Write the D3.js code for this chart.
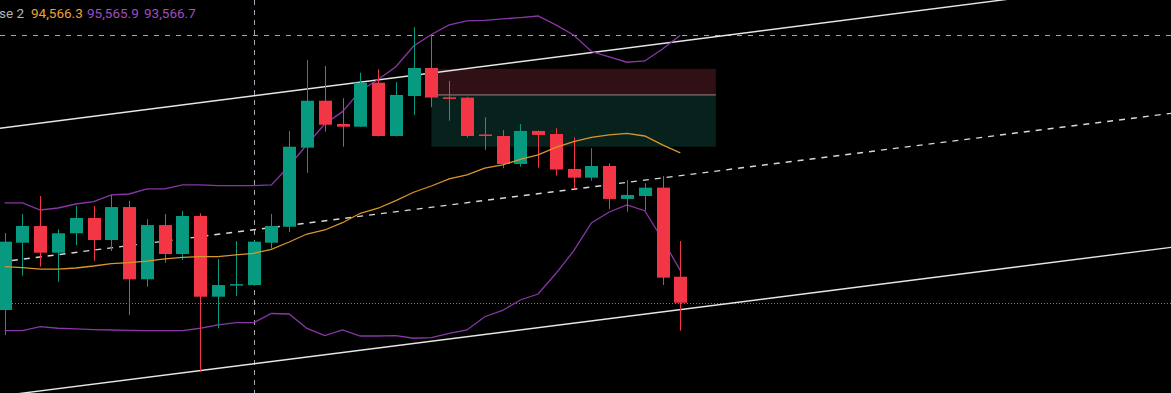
<!DOCTYPE html>
<html>
<head>
<meta charset="utf-8">
<script src="https://d3js.org/d3.v7.min.js"></script>
<style>
  html, body { margin: 0; padding: 0; background: #000000; overflow: hidden; }
  #chart .legend { font-family: Roboto, "Noto Sans", sans-serif; font-size: 13.5px; }
</style>
</head>
<body>
<script>
// candles, oldest first (price in USD)
const OPEN  = [93230, 93802, 93944, 93717, 93882, 94012, 93825, 94105, 93491, 93952,
               93706, 94029, 93343, 93440, 93442, 93802, 93938, 94610, 95009, 94811,
               94788, 95162, 94709, 95049, 95287, 95038, 95035, 94722, 94709, 94471,
               94752, 94726, 94429, 94355, 94454, 94174, 94199, 94270, 93513];
const HIGH  = [93885, 94046, 94199, 93916, 94114, 94114, 94207, 94159, 94001, 94046,
               94071, 94052, 93663, 93816, 93820, 94046, 94752, 95355, 95304, 95030,
               95247, 95276, 95168, 95633, 95568, 95177, 95041, 94868, 94760, 94811,
               94755, 94775, 94698, 94605, 94477, 94335, 94307, 94369, 93816];
const LOW   = [93018, 93522, 93598, 93470, 93782, 93649, 93731, 93187, 93428, 93632,
               93655, 92705, 93074, 93349, 93435, 93754, 93893, 94397, 94746, 94618,
               94785, 94705, 94705, 94888, 94956, 94839, 94696, 94590, 94435, 94448,
               94440, 94373, 94259, 94329, 94089, 94066, 94074, 93442, 93054];
const CLOSE = [93811, 93944, 93717, 93882, 94012, 93825, 94105, 93491, 93952, 93706,
               94029, 93343, 93442, 93450, 93811, 93944, 94618, 95009, 94805, 94788,
               95162, 94709, 95058, 95287, 95036, 95024, 94709, 94709, 94471, 94752,
               94718, 94424, 94355, 94454, 94174, 94208, 94270, 93505, 93292];

// Bollinger bands
const BB_MID   = [93598, 93591, 93578, 93578, 93587, 93604, 93625, 93632, 93646, 93664,
                  93678, 93683, 93683, 93698, 93712, 93746, 93808, 93876, 93910, 93972,
                  94052, 94095, 94159, 94231, 94284, 94344, 94378, 94435, 94463, 94511,
                  94548, 94613, 94661, 94698, 94718, 94732, 94709, 94633, 94566.3];
const BB_UPPER = [94140, 94140, 94080, 94097, 94131, 94151, 94208, 94216, 94259, 94259,
                  94293, 94293, 94287, 94287, 94287, 94293, 94454, 94637, 94811, 94916,
                  95092, 95189, 95298, 95474, 95572, 95653, 95687, 95691, 95704, 95716,
                  95729, 95653, 95568, 95427, 95381, 95336, 95347, 95449, 95565.9];
const BB_LOWER = [93054, 93054, 93088, 93075, 93069, 93064, 93060, 93056, 93054, 93054,
                  93054, 93075, 93103, 93122, 93122, 93200, 93196, 93073, 93012, 93060,
                  93009, 93009, 93012, 92990, 92995, 93032, 93060, 93173, 93226, 93315,
                  93366, 93540, 93732, 93970, 94063, 94123, 94074, 93829, 93566.7];

// drawings: [bar index, price] pairs
const CHANNEL_TOP = [[0, 94780], [38, 95515]];
const CHANNEL_MID = [[0, 93643], [38, 94372]];
const CHANNEL_BOTTOM = [[0, 92504], [38, 93233]];
const ZONE_BARS = [24, 40];
const ZONE_PRICES = [95280, 95058, 94618];   // top, split, bottom
const CROSS_BAR = 14;
const CROSS_PRICE = 95566;

const LEGEND_LABEL = "se 2";
const LEGEND_VALUES = ["94,566.3", "95,565.9", "93,566.7"];

const WIDTH = 1171;
const HEIGHT = 393;
const UP = "#089981";
const DOWN = "#f23645";

const svg = d3.select("body").append("svg")
    .attr("id", "chart")
    .attr("width", WIDTH)
    .attr("height", HEIGHT);

svg.append("rect")
    .attr("width", WIDTH)
    .attr("height", HEIGHT)
    .attr("fill", "#000000");

const x = d3.scaleLinear().domain([0, 38]).range([4.7, 680.3]);
const y = d3.scaleLinear().domain([92524.5, 95865]).range([HEIGHT, 0]);

const bars = OPEN.map(function(o, i) {
    return { i: i, o: o, h: HIGH[i], l: LOW[i], c: CLOSE[i] };
});

// zone behind the candles
svg.append("rect")
    .attr("x", x(ZONE_BARS[0]))
    .attr("width", x(ZONE_BARS[1]) - x(ZONE_BARS[0]))
    .attr("y", y(ZONE_PRICES[0]))
    .attr("height", y(ZONE_PRICES[1]) - y(ZONE_PRICES[0]))
    .attr("fill", "#2f1014");
svg.append("rect")
    .attr("x", x(ZONE_BARS[0]))
    .attr("width", x(ZONE_BARS[1]) - x(ZONE_BARS[0]))
    .attr("y", y(ZONE_PRICES[1]))
    .attr("height", y(ZONE_PRICES[2]) - y(ZONE_PRICES[1]))
    .attr("fill", "#07211d");
svg.append("line")
    .attr("x1", x(ZONE_BARS[0])).attr("x2", x(ZONE_BARS[1]))
    .attr("y1", y(ZONE_PRICES[1])).attr("y2", y(ZONE_PRICES[1]))
    .attr("stroke", "#9a8a8c")
    .attr("stroke-width", 1);

// crosshair
svg.append("line")
    .attr("x1", Math.round(x(CROSS_BAR)) + 0.5).attr("x2", Math.round(x(CROSS_BAR)) + 0.5)
    .attr("y1", 0).attr("y2", HEIGHT)
    .attr("stroke", "#a3a6ae")
    .attr("stroke-dasharray", "5,5");
svg.append("line")
    .attr("x1", 0).attr("x2", WIDTH)
    .attr("y1", Math.round(y(CROSS_PRICE)) + 0.5).attr("y2", Math.round(y(CROSS_PRICE)) + 0.5)
    .attr("stroke", "#a3a6ae")
    .attr("stroke-dasharray", "5,6");

// last price line
svg.append("line")
    .attr("x1", 0).attr("x2", WIDTH)
    .attr("y1", Math.round(y(CLOSE[CLOSE.length - 1])) + 0.5)
    .attr("y2", Math.round(y(CLOSE[CLOSE.length - 1])) + 0.5)
    .attr("stroke", "#d8603e")
    .attr("stroke-dasharray", "1,2");

// extend a two point drawing across the whole width
function extended(pts) {
    var x1 = x(pts[0][0]), y1 = y(pts[0][1]);
    var x2 = x(pts[1][0]), y2 = y(pts[1][1]);
    var k = (y2 - y1) / (x2 - x1);
    return { x1: 0, y1: y1 - k * x1, x2: WIDTH, y2: y1 + k * (WIDTH - x1) };
}

[CHANNEL_TOP, CHANNEL_BOTTOM].forEach(function(pts) {
    var l = extended(pts);
    svg.append("line")
        .attr("x1", l.x1).attr("y1", l.y1).attr("x2", l.x2).attr("y2", l.y2)
        .attr("stroke", "#e6e6e6")
        .attr("stroke-width", 1.4);
});
var mid = extended(CHANNEL_MID);
svg.append("line")
    .attr("x1", mid.x1).attr("y1", mid.y1).attr("x2", mid.x2).attr("y2", mid.y2)
    .attr("stroke", "#d8d8d8")
    .attr("stroke-width", 1.4)
    .attr("stroke-dasharray", "6,6");

// bands
var bandLine = d3.line()
    .x(function(d, i) { return x(i); })
    .y(function(d) { return y(d); });
svg.append("path").datum(BB_UPPER)
    .attr("d", bandLine).attr("fill", "none")
    .attr("stroke", "#8a36a6").attr("stroke-width", 1.3);
svg.append("path").datum(BB_LOWER)
    .attr("d", bandLine).attr("fill", "none")
    .attr("stroke", "#8a36a6").attr("stroke-width", 1.3);

// candles
var candle = svg.append("g").selectAll("g")
    .data(bars)
    .enter()
    .append("g");
candle.append("line")
    .attr("x1", function(d) { return Math.round(x(d.i)) + 0.5; })
    .attr("x2", function(d) { return Math.round(x(d.i)) + 0.5; })
    .attr("y1", function(d) { return y(d.h); })
    .attr("y2", function(d) { return y(d.l); })
    .attr("stroke", function(d) { return d.c >= d.o ? UP : DOWN; })
    .attr("stroke-width", 1);
candle.append("rect")
    .attr("x", function(d) { return Math.round(x(d.i)) - 6; })
    .attr("width", 13)
    .attr("y", function(d) { return y(Math.max(d.o, d.c)); })
    .attr("height", function(d) { return Math.max(1.5, Math.abs(y(d.o) - y(d.c))); })
    .attr("fill", function(d) { return d.c >= d.o ? UP : DOWN; });

svg.append("path").datum(BB_MID)
    .attr("d", bandLine).attr("fill", "none")
    .attr("stroke", "#d9962a").attr("stroke-width", 1.3);

// legend
var legend = svg.append("g").attr("class", "legend");
legend.append("text").attr("x", -1).attr("y", 18)
    .attr("fill", "#b2b5be").text(LEGEND_LABEL);
var legendColors = ["#f0a030", "#a04cc4", "#a04cc4"];
var legendX = [31, 87, 144];
LEGEND_VALUES.forEach(function(v, i) {
    legend.append("text").attr("x", legendX[i]).attr("y", 18)
        .attr("fill", legendColors[i]).text(v);
});
</script>
</body>
</html>
